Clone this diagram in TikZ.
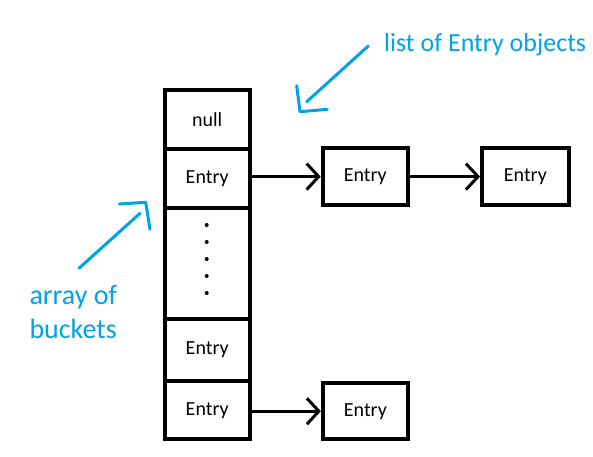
\documentclass[tikz,border=0pt]{standalone}
\usepackage{fontspec}
\setmainfont{Carlito}
\usepackage{xcolor}
\definecolor{paintblue}{RGB}{0,162,232}
\usetikzlibrary{arrows.meta}
\tikzset{>={Straight Barb[length=12pt,width=26pt]}}
\tikzset{cell/.style={draw,line width=4pt,minimum width=85pt,inner sep=0pt,font=\fontsize{20}{24}\selectfont}}
\tikzset{link/.style={->,line width=3pt}}
\tikzset{note/.style={color=paintblue,line width=3pt,line cap=round,line join=round}}
\tikzset{notetext/.style={text=paintblue,inner sep=0pt,font=\fontsize{26}{34}\selectfont}}

\begin{document}
\begin{tikzpicture}[x=1pt,y=-1pt]
			\useasboundingbox (0,0) rectangle (593,456);
			% buckets
			\node[cell,minimum height=58.3pt] (b0) at (207.2,119.6) {null};
			\node[cell,minimum height=59.2pt] (b1) at (207.2,178.4) {Entry};
			\node[cell,minimum height=110.8pt] (b2) at (207.2,263.4) {};
			\node[cell,minimum height=62.2pt] (b3) at (207.2,349.9) {Entry};
			\node[cell,minimum height=58.5pt] (b4) at (207.2,410.2) {Entry};
			\foreach \y in {225,242,259,276,293}
				\fill (206.7,\y) circle (2pt);
			% entry lists
			\node[cell,minimum height=57pt] (e1) at (365.2,176.6) {Entry};
			\node[cell,minimum width=86.7pt,minimum height=57pt] (e2) at (525.4,176.6) {Entry};
			\node[cell,minimum height=56.5pt] (e3) at (365.4,411.2) {Entry};
			\draw[link] (e1.west -| b1.east) -- (e1.west);
			\draw[link] (e1.east) -- (e2.west);
			\draw[link] (e3.west -| b4.east) -- (e3.west);
			% notes
			\node[notetext,anchor=base west] (lst) at (384,51.7) {list of Entry objects};
			\node[notetext,anchor=base west,align=left,font=\fontsize{28}{34}\selectfont] (arr) at (29.3,338.3) {array of\\buckets};
			\coordinate (l1) at (368.3,46);
			\coordinate (l2) at (306.7,101.7);
			\coordinate (a1) at (79,268.3);
			\coordinate (a2) at (140,213.3);
			\draw[note] (l1) -- (l2);
			\draw[note] (296.7,85.7) -- (300,111.7) -- (327.3,109.3);
			\draw[note] (a1) -- (a2);
			\draw[note] (119.3,204) -- (145.7,202.3) -- (150,229.3);
\end{tikzpicture}
\end{document}
